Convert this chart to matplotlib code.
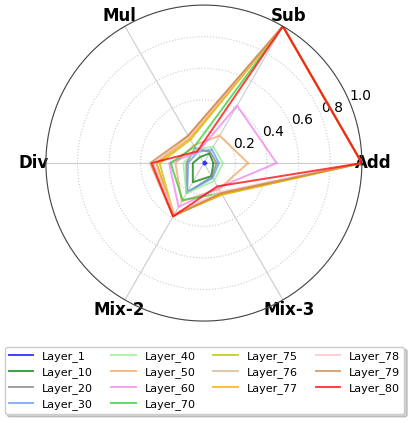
import numpy as np
import matplotlib
matplotlib.use("Agg")
import matplotlib.pyplot as plt

categories = ["Add", "Sub", "Mul", "Div", "Mix-2", "Mix-3"]

layer_names = ["Layer_1", "Layer_10", "Layer_20", "Layer_30", "Layer_40",
               "Layer_50", "Layer_60", "Layer_70", "Layer_75", "Layer_76",
               "Layer_77", "Layer_78", "Layer_79", "Layer_80"]

# values per layer, order: Add, Sub, Mul, Div, Mix-2, Mix-3
layer_1  = [0.015, 0.012, 0.005, 0.003, 0.006, 0.012]
layer_10 = [0.06, 0.07, 0.045, 0.07, 0.14, 0.095]
layer_20 = [0.08, 0.08, 0.11, 0.11, 0.22, 0.10]
layer_30 = [0.095, 0.10, 0.08, 0.10, 0.21, 0.11]
layer_40 = [0.12, 0.12, 0.10, 0.13, 0.22, 0.13]
layer_50 = [0.28, 0.20, 0.13, 0.18, 0.28, 0.19]
layer_60 = [0.46, 0.42, 0.08, 0.22, 0.32, 0.18]
layer_70 = [1.0, 1.0, 0.12, 0.21, 0.27, 0.22]
layer_75 = [1.0, 1.0, 0.17, 0.28, 0.38, 0.23]
layer_76 = [1.0, 1.0, 0.20, 0.30, 0.38, 0.22]
layer_77 = [1.0, 1.0, 0.18, 0.30, 0.38, 0.23]
layer_78 = [1.0, 1.0, 0.19, 0.32, 0.37, 0.21]
layer_79 = [1.0, 1.0, 0.20, 0.34, 0.39, 0.22]
layer_80 = [1.0, 1.0, 0.085, 0.33, 0.39, 0.17]

layer_values = [layer_1, layer_10, layer_20, layer_30, layer_40, layer_50,
                layer_60, layer_70, layer_75, layer_76, layer_77, layer_78,
                layer_79, layer_80]

colors = ["blue", "green", "gray", "cornflowerblue", "lightgreen", "sandybrown",
          "violet", "limegreen", "y", "tan", "orange", "pink", "peru", "red"]

angles = np.linspace(0, 2 * np.pi, len(categories), endpoint=False)
angles_closed = np.concatenate([angles, angles[:1]])

fig = plt.figure(figsize=(4.09, 4.23), dpi=100)
ax = fig.add_axes([0.112, 0.241, 0.773, 0.747], projection="polar")

for name, vals, c in zip(layer_names, layer_values, colors):
    v = np.concatenate([vals, vals[:1]])
    ax.plot(angles_closed, v, color=c, lw=1.4, alpha=0.75, label=name)

ax.set_ylim(0, 1.0)
ax.set_yticks([0.2, 0.4, 0.6, 0.8, 1.0])
ax.set_yticklabels(["0.2", "0.4", "0.6", "0.8", "1.0"], fontsize=10)
ax.set_rlabel_position(22.5)
ax.set_xticks(angles)
ax.set_xticklabels(categories, fontsize=12, fontweight="bold")
ax.tick_params(axis="x", pad=-2)
ax.yaxis.grid(True, color="#cccccc", linestyle=":", lw=0.8)
ax.xaxis.grid(True, color="#cccccc", linestyle="-", lw=0.8)
ax.spines["polar"].set_color("#444444")
ax.spines["polar"].set_linewidth(0.8)

fig.legend(loc="lower center", bbox_to_anchor=(0.5, 0.008), ncol=4,
           fontsize=8, frameon=True, fancybox=True,
           shadow={"alpha": 0.25},
           handlelength=2.2, handletextpad=0.8, columnspacing=1.6,
           labelspacing=0.45, borderpad=0.4)

fig.savefig("out.png", dpi=100)
